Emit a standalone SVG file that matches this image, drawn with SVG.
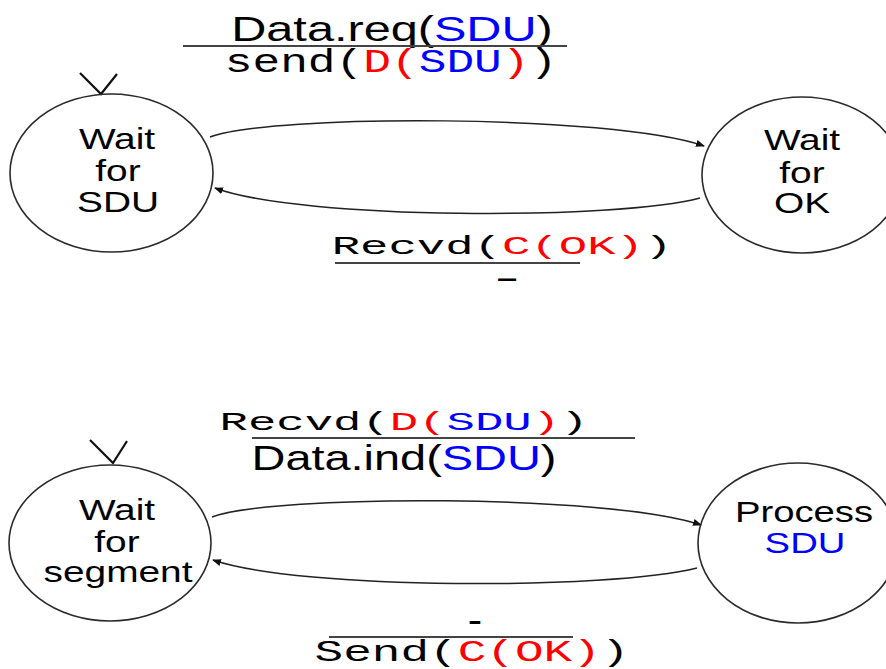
<svg xmlns="http://www.w3.org/2000/svg" width="886" height="669" viewBox="0 0 886 669">
<style>
.bg{fill:#fff}
.st{fill:none;stroke:#2a2a2a;stroke-width:1.6}
.conn{fill:none;stroke:#222;stroke-width:1.5}
.rule{stroke:#444;stroke-width:2}
.init{fill:none;stroke:#111;stroke-width:2.2}
.sans{font-family:"Liberation Sans",Arial,Helvetica,sans-serif;fill:#000}
.mono{font-family:"Liberation Mono","Courier New",monospace;fill:#000}
.node{font-size:29px}
.big{font-size:35px}
.dash{font-size:26px;font-weight:bold}
.r{fill:#f00}
.b{fill:#00f}
</style>
<defs>
<marker id="arr" markerUnits="userSpaceOnUse" markerWidth="9" markerHeight="7" refX="8" refY="3.5" orient="auto">
<path d="M0,0 L9,3.5 L0,7 z" fill="#111"/>
</marker>
</defs>
<rect class="bg" x="0" y="0" width="886" height="669"/>

<g id="connectors">
<path class="conn" d="M210,137 C270,114 610,114 704,146" marker-end="url(#arr)"/>
<path class="conn" d="M700,198 C620,220 300,220 215,188" marker-end="url(#arr)"/>
<path class="conn" d="M212,517 C272,494 610,494 701,525" marker-end="url(#arr)"/>
<path class="conn" d="M697,568 C610,590 300,590 213,560" marker-end="url(#arr)"/>
</g>

<g id="sender-labels">
<text class="sans big" text-anchor="middle" transform="translate(392,41) scale(1.39,1)">Data.req(<tspan class="b">SDU</tspan>)</text>
<line class="rule" x1="183" y1="46" x2="567" y2="46"/>
<text class="mono" font-size="33" text-anchor="middle" transform="translate(391,72) scale(1.4,1)">send(<tspan class="r">D(</tspan><tspan class="b">SDU</tspan><tspan class="r">)</tspan>)</text>
<text class="mono" font-size="26" text-anchor="middle" transform="translate(502,254) scale(1.82,1)">Recvd(<tspan class="r">C(OK)</tspan>)</text>
<line class="rule" x1="335" y1="263" x2="580" y2="263"/>
<text class="sans dash" text-anchor="middle" transform="translate(507,287) scale(1.4,1)">–</text>
</g>

<g id="receiver-labels">
<text class="mono" font-size="26" text-anchor="middle" transform="translate(404,430) scale(1.82,1)">Recvd(<tspan class="r">D(</tspan><tspan class="b">SDU</tspan><tspan class="r">)</tspan>)</text>
<line class="rule" x1="252" y1="438" x2="635" y2="438"/>
<text class="sans big" text-anchor="middle" transform="translate(404,470) scale(1.34,1)">Data.ind(<tspan class="b">SDU</tspan>)</text>
<text class="sans dash" text-anchor="middle" transform="translate(475,629) scale(1.6,1)">-</text>
<line class="rule" x1="329" y1="637" x2="573" y2="637"/>
<text class="mono" font-size="30" text-anchor="middle" transform="translate(472,661) scale(1.59,1)">Send(<tspan class="r">C(OK)</tspan>)</text>
</g>

<g id="wait-for-sdu">
<path class="init" d="M80,73 L101,94 L117,74"/>
<ellipse class="st" cx="111.5" cy="173" rx="101.5" ry="79"/>
<text class="sans node" text-anchor="middle" transform="translate(117,149) scale(1.34,1)">Wait</text>
<text class="sans node" text-anchor="middle" transform="translate(118,181) scale(1.34,1)">for</text>
<text class="sans node" text-anchor="middle" transform="translate(118,212) scale(1.34,1)">SDU</text>
</g>

<g id="wait-for-ok">
<ellipse class="st" cx="802" cy="175" rx="100" ry="78"/>
<text class="sans node" text-anchor="middle" transform="translate(802,150) scale(1.34,1)">Wait</text>
<text class="sans node" text-anchor="middle" transform="translate(802,183) scale(1.34,1)">for</text>
<text class="sans node" text-anchor="middle" transform="translate(802,213) scale(1.34,1)">OK</text>
</g>

<g id="wait-for-segment">
<path class="init" d="M90,440 L113,463 L127,441"/>
<ellipse class="st" cx="110" cy="543" rx="101" ry="78"/>
<text class="sans node" text-anchor="middle" transform="translate(117,520) scale(1.34,1)">Wait</text>
<text class="sans node" text-anchor="middle" transform="translate(117,552) scale(1.34,1)">for</text>
<text class="sans node" text-anchor="middle" transform="translate(118,582) scale(1.34,1)">segment</text>
</g>

<g id="process-sdu">
<ellipse class="st" cx="798" cy="543" rx="100" ry="80"/>
<text class="sans node" text-anchor="middle" transform="translate(804,522) scale(1.32,1)">Process</text>
<text class="sans node b" text-anchor="middle" transform="translate(805,553) scale(1.32,1)">SDU</text>
</g>
</svg>
